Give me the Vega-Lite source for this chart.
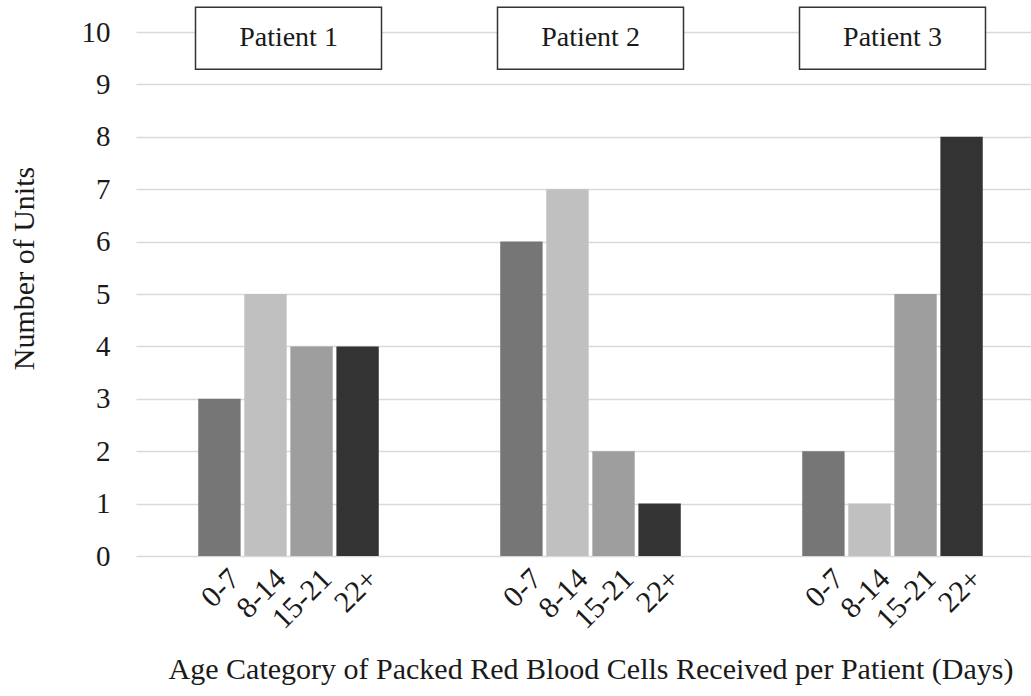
{
  "$schema": "https://vega.github.io/schema/vega-lite/v6.json",
  "width": 909,
  "height": 524,
  "autosize": {"type": "none"},
  "padding": {"left": 136, "top": 32, "right": 0, "bottom": 140},
  "background": "white",
  "config": {
    "font": "Liberation Serif",
    "view": {"stroke": null},
    "axis": {"labelColor": "#1a1a1a", "titleColor": "#1a1a1a", "titleFontWeight": "normal"}
  },
  "data": {
    "values": [
      {"patient": "Patient 1", "cat": "0-7", "units": 3},
      {"patient": "Patient 1", "cat": "8-14", "units": 5},
      {"patient": "Patient 1", "cat": "15-21", "units": 4},
      {"patient": "Patient 1", "cat": "22+", "units": 4},
      {"patient": "Patient 2", "cat": "0-7", "units": 6},
      {"patient": "Patient 2", "cat": "8-14", "units": 7},
      {"patient": "Patient 2", "cat": "15-21", "units": 2},
      {"patient": "Patient 2", "cat": "22+", "units": 1},
      {"patient": "Patient 3", "cat": "0-7", "units": 2},
      {"patient": "Patient 3", "cat": "8-14", "units": 1},
      {"patient": "Patient 3", "cat": "15-21", "units": 5},
      {"patient": "Patient 3", "cat": "22+", "units": 8}
    ]
  },
  "encoding": {
    "x": {
      "field": "patient", "type": "nominal",
      "scale": {"paddingInner": 0.39, "paddingOuter": 0.2},
      "axis": {
        "labels": false, "ticks": false, "domain": false,
        "title": "Age Category of Packed Red Blood Cells Received per Patient (Days)",
        "titleFontSize": 30, "titlePadding": 98
      }
    },
    "y": {
      "type": "quantitative",
      "scale": {"domain": [0, 10]},
      "axis": {
        "values": [0, 1, 2, 3, 4, 5, 6, 7, 8, 9, 10],
        "grid": true, "gridColor": "#d9d9d9", "gridWidth": 1.5,
        "ticks": false, "domain": false,
        "labelFontSize": 29, "labelPadding": 26,
        "title": "Number of Units", "titleFontSize": 30, "titlePadding": 42, "titleY": 236
      }
    }
  },
  "layer": [
    {
      "mark": {"type": "bar", "clip": false},
      "encoding": {
        "xOffset": {"field": "cat", "type": "nominal", "sort": ["0-7", "8-14", "15-21", "22+"], "scale": {"paddingInner": 0.08, "paddingOuter": 0.04}},
        "y": {"field": "units", "type": "quantitative"},
        "color": {
          "field": "cat", "type": "nominal",
          "scale": {"domain": ["0-7", "8-14", "15-21", "22+"], "range": ["#767676", "#c0c0c0", "#9e9e9e", "#333333"]},
          "legend": null
        }
      }
    },
    {
      "mark": {"type": "text", "angle": -45, "align": "right", "baseline": "middle", "dy": 24, "dx": -2, "fontSize": 30, "color": "#1a1a1a"},
      "encoding": {
        "xOffset": {"field": "cat", "type": "nominal", "sort": ["0-7", "8-14", "15-21", "22+"]},
        "y": {"datum": 0},
        "text": {"field": "cat"}
      }
    },
    {
      "data": {"values": [{"patient": "Patient 1"}, {"patient": "Patient 2"}, {"patient": "Patient 3"}]},
      "mark": {"type": "rect", "width": 186, "fill": "white", "stroke": "#333333", "strokeWidth": 1.5, "clip": false},
      "encoding": {
        "y": {"datum": 10.47},
        "y2": {"datum": 9.29}
      }
    },
    {
      "data": {"values": [{"patient": "Patient 1"}, {"patient": "Patient 2"}, {"patient": "Patient 3"}]},
      "mark": {"type": "text", "fontSize": 28, "color": "#1a1a1a", "baseline": "middle"},
      "encoding": {
        "y": {"datum": 9.88},
        "text": {"field": "patient"}
      }
    }
  ]
}
